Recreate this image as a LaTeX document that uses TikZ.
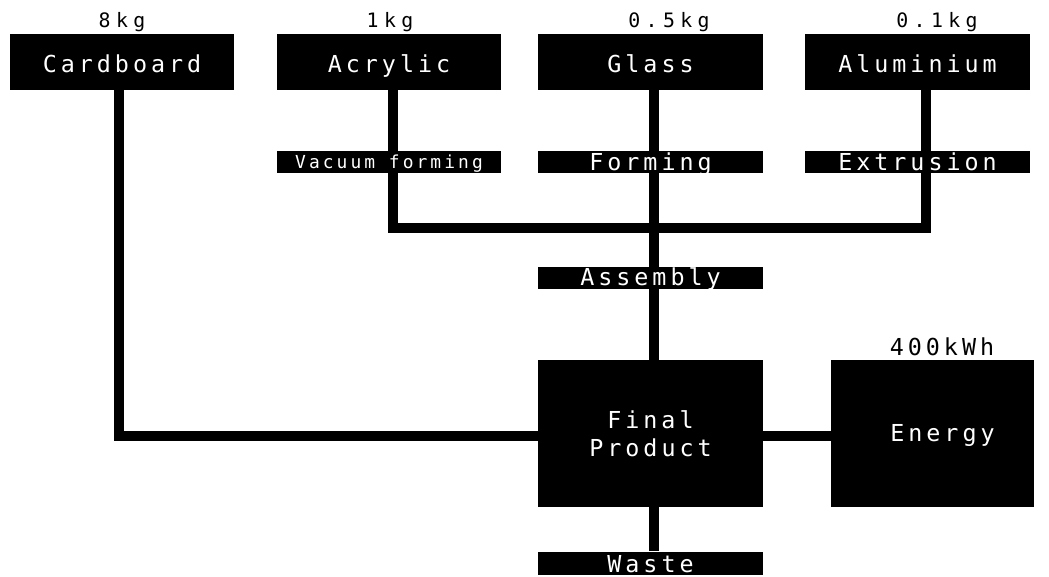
\documentclass[tikz,border=0pt]{standalone}
\usepackage{fontspec}
\usetikzlibrary{backgrounds}
\newfontfamily\lcafont[LetterSpace=17]{DejaVu Sans Mono}
\newfontfamily\lcawide[LetterSpace=27]{DejaVu Sans Mono}
\newcommand{\bigtype}{\lcafont\fontsize{13.3}{15.7}\selectfont}
\newcommand{\smalltype}{\lcafont\fontsize{10.2}{12}\selectfont}
\newcommand{\amounttype}{\lcawide\fontsize{11.3}{13}\selectfont}

\begin{document}
\begin{tikzpicture}[x=0.02cm,y=-0.02cm,
  material/.style={fill=black,text=white,inner sep=0pt,
    minimum width=4.5cm,text height=0.76cm,text depth=0.36cm,font=\bigtype},
  process/.style={fill=black,text=white,inner sep=0pt,
    minimum width=4.5cm,text height=0.38cm,text depth=0.06cm,font=\bigtype},
  result/.style={fill=black,text=white,inner sep=0pt,
    minimum width=4.5cm,minimum height=2.94cm,align=center,font=\bigtype},
  amount/.style={anchor=base,inner sep=0pt,font=\amounttype},
  link/.style={line width=0.2cm}]

% page
\useasboundingbox (0,0) rectangle (1049,576);

% materials
\node[material] (cardboard) at (122,62)   {Cardboard};
\node[material] (acrylic)   at (389,62)   {Acrylic};
\node[material] (glass)     at (650.5,62) {Glass};
\node[material] (alu)       at (917.5,62) {Aluminium};

% amounts
\node[amount] (wcard)  at (122,27) {8kg};
\node[amount] (wacr)   at (390,27) {1kg};
\node[amount] (wglass) at (669,27) {0.5kg};
\node[amount] (walu)   at (937,27) {0.1kg};

% processes
\node[process,font=\smalltype,text depth=0.1cm,text height=0.34cm] (vacuum) at (389,162) {Vacuum forming};
\node[process] (forming)   at (650.5,162) {Forming};
\node[process] (extrusion) at (917.5,162) {Extrusion};
\node[process] (assembly)  at (650.5,277.5) {Assembly};

% product, energy, waste
\node[result] (final) at (650.5,433.5) {Final\\Product};
\node[result,minimum width=4.06cm,text height=1.62cm,text depth=1.32cm] (energy) at (932.5,433.5) {\hspace*{0.4cm}Energy};
\node[amount,font=\bigtype] (wenergy) at (942,355) {400kWh};
\node[process,text height=0.42cm,text depth=0.04cm] (waste) at (650.5,563) {Waste};

% junctions
\coordinate (jacr)  at (393,228);
\coordinate (spine) at (654,228);
\coordinate (jalu)  at (926,228);
\coordinate (jcard) at (119,436);

% connectors
\begin{scope}[on background layer]
\draw[link] (acrylic.south -| jacr) -- (jacr) -- (jalu) -- (alu.south -| jalu);
\draw[link] (glass.south -| spine) -- (final.north -| spine);
\draw[link] (final.south -| spine) -- (waste.north -| spine);
\draw[link] (cardboard.south -| jcard) -- (jcard) -- (final.west |- jcard);
\draw[link] (final.east |- jcard) -- (energy.west |- jcard);
\end{scope}

\end{tikzpicture}
\end{document}
